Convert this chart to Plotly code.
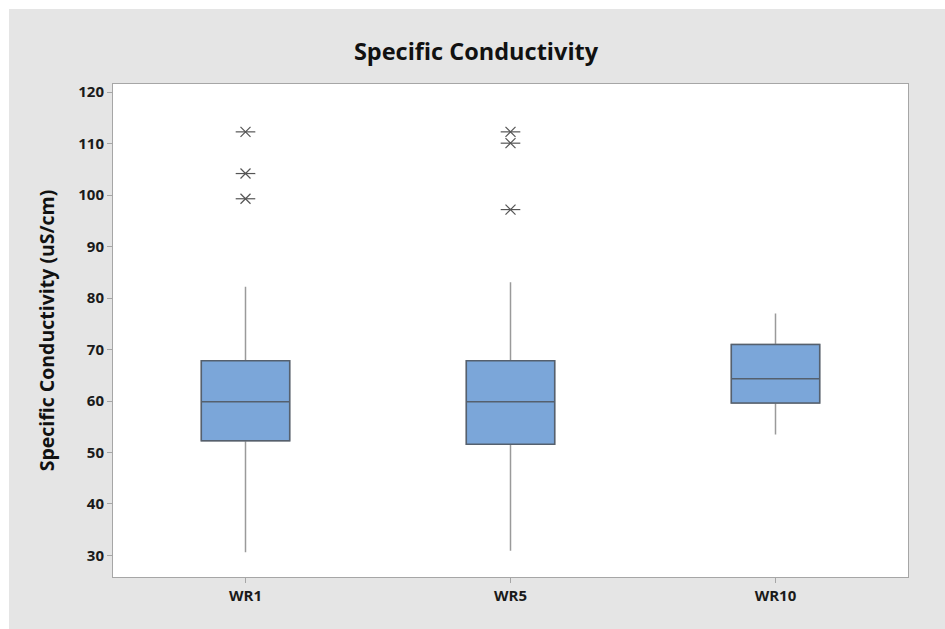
import plotly.graph_objects as go

# ---- data ----
categories = ["WR1", "WR5", "WR10"]
q1 = [52.3, 51.6, 59.6]
median = [59.85, 59.85, 64.3]
q3 = [67.8, 67.8, 71.0]
lower_whisker = [30.6, 30.9, 53.5]
upper_whisker = [82.2, 83.1, 77.0]

outlier_cats = ["WR1", "WR1", "WR1", "WR5", "WR5", "WR5"]
outlier_vals = [112.3, 104.2, 99.3, 112.3, 110.1, 97.2]

y_ticks = [30, 40, 50, 60, 70, 80, 90, 100, 110, 120]

FILL = "#7BA6D9"
BOX_LINE = "#55606E"
WHISK = "#9A9A9A"
STAR = "#555555"
BG = "#E5E5E5"
FONT = "Open Sans"

fig = go.Figure()

# whiskers (lighter gray)
fig.add_trace(go.Box(
    x=categories, q1=q1, median=median, q3=q3,
    lowerfence=lower_whisker, upperfence=upper_whisker,
    fillcolor=FILL, line=dict(color=WHISK, width=1.5),
    whiskerwidth=0, width=1/3, boxpoints=False, hoverinfo="skip",
    showlegend=False,
))
# box body (darker outline)
fig.add_trace(go.Box(
    x=categories, q1=q1, median=median, q3=q3,
    lowerfence=q1, upperfence=q3,
    fillcolor=FILL, line=dict(color=BOX_LINE, width=1.5),
    whiskerwidth=0, width=1/3, boxpoints=False,
    showlegend=False,
))
# outliers: 6-arm asterisks (x + horizontal line)
fig.add_trace(go.Scatter(
    x=outlier_cats, y=outlier_vals, mode="markers",
    marker=dict(symbol="x-thin-open", size=10, color=STAR, line=dict(color=STAR, width=1.2)),
    showlegend=False,
))
fig.add_trace(go.Scatter(
    x=outlier_cats, y=outlier_vals, mode="markers",
    marker=dict(symbol="line-ew-open", size=14, color=STAR, line=dict(color=STAR, width=1.2)),
    showlegend=False,
))

# plot area geometry in page pixels (body margin removed)
L, R, T, B = 113, 908, 84, 577
W, H = 945, 629
pw, ph = R - L, B - T

def px_x(x):
    return (x - L) / pw

def px_y(y):
    return (B - y) / ph

fig.update_layout(
    width=W, height=H,
    margin=dict(l=L, r=W - R, t=T, b=H - B, pad=0),
    paper_bgcolor=BG,
    plot_bgcolor="white",
    boxmode="overlay",
    font=dict(family=FONT, color="#1a1a1a"),
    title=dict(
        text="<b>Specific Conductivity</b>",
        x=476 / W, xanchor="center", xref="container",
        y=1 - 52 / H, yanchor="middle", yref="container",
        font=dict(size=23.5, family=FONT, color="#111111"),
    ),
    shapes=[
        # thin white frame strips at the top and left edge
        dict(type="rect", xref="paper", yref="paper", layer="below",
             x0=px_x(-5), x1=px_x(W + 5), y0=px_y(9), y1=px_y(-5),
             fillcolor="white", line=dict(width=0)),
        dict(type="rect", xref="paper", yref="paper", layer="below",
             x0=px_x(-5), x1=px_x(9), y0=px_y(H + 5), y1=px_y(-5),
             fillcolor="white", line=dict(width=0)),
    ],
)

fig.update_xaxes(
    type="category", range=[-0.5, 2.5],
    showline=True, mirror=True, linecolor="#A6A6A6", linewidth=1,
    ticks="outside", ticklen=5, tickcolor="#A6A6A6",
    showgrid=False, zeroline=False,
    tickfont=dict(size=15, family=FONT, color="#1a1a1a", weight="bold"),
)
fig.update_yaxes(
    range=[25.8, 121.6],
    tickvals=y_ticks, ticktext=[str(v) for v in y_ticks],
    showline=True, mirror=True, linecolor="#A6A6A6", linewidth=1,
    ticks="outside", ticklen=5, tickcolor="#A6A6A6",
    showgrid=False, zeroline=False,
    tickfont=dict(size=15, family=FONT, color="#1a1a1a", weight="bold"),
    title=dict(text="<b>Specific Conductivity (uS/cm)</b>", standoff=18,
               font=dict(size=19.5, family=FONT, color="#111111")),
)

fig.write_html(
    "out.html",
    config={"displayModeBar": False},
    post_script="document.body.style.margin='0';document.body.style.overflow='hidden';",
)
